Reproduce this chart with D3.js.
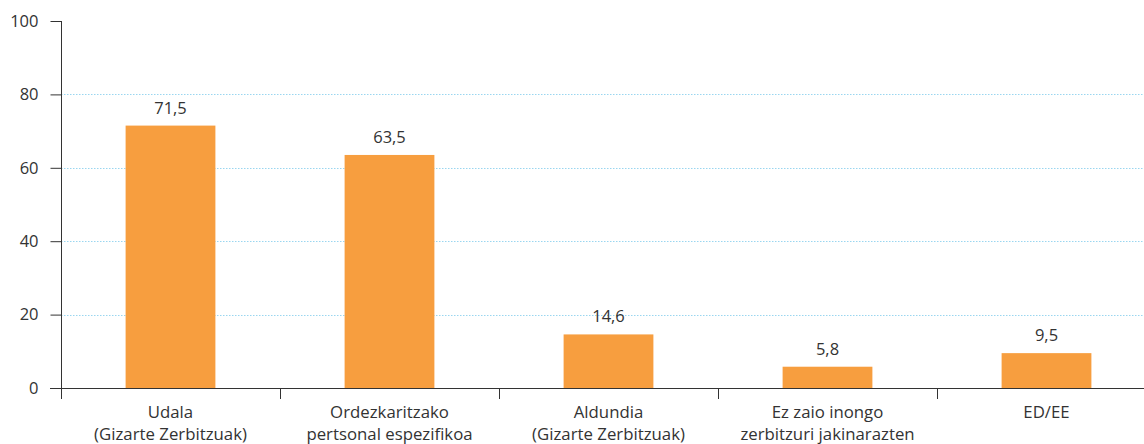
<!DOCTYPE html>
<html>
<head>
<meta charset="utf-8">
<script src="https://cdn.jsdelivr.net/npm/d3@7"></script>
<style>
  body { margin: 0; background: #fff; }
  svg { display: block; font-family: "Open Sans", "Noto Sans", sans-serif; }
  .grid line { stroke: #9ad6f0; stroke-dasharray: 1.5 1.5; }
</style>
</head>
<body>
<script>
// data
const categories = [
  ["Udala", "(Gizarte Zerbitzuak)"],
  ["Ordezkaritzako", "pertsonal espezifikoa"],
  ["Aldundia", "(Gizarte Zerbitzuak)"],
  ["Ez zaio inongo", "zerbitzuri jakinarazten"],
  ["ED/EE"]
];
const values = [71.5, 63.5, 14.6, 5.8, 9.5];
const yTicks = [0, 20, 40, 60, 80, 100];

const w = 1144, h = 444;
const padLeft = 61, padTop = 21, axisY = 388;

const svg = d3.select('body').append('svg')
  .attr('width', w)
  .attr('height', h);

const xScale = d3.scaleBand()
  .domain(d3.range(values.length))
  .range([padLeft, padLeft + 219 * values.length])
  .paddingInner(0.59)
  .paddingOuter(0.295);

const yScale = d3.scaleLinear()
  .domain([0, 100])
  .range([axisY, padTop]);

// grid lines
svg.append('g')
  .attr('class', 'grid')
  .selectAll('line')
  .data(yTicks.filter(d => d > 0 && d < 100))
  .enter()
  .append('line')
  .attr('x1', padLeft)
  .attr('x2', w)
  .attr('y1', d => Math.round(yScale(d)) + 0.5)
  .attr('y2', d => Math.round(yScale(d)) + 0.5);

// bars
svg.selectAll('rect.bar')
  .data(values)
  .enter()
  .append('rect')
  .attr('class', 'bar')
  .attr('x', (d, i) => xScale(i))
  .attr('y', d => yScale(d))
  .attr('width', xScale.bandwidth())
  .attr('height', d => axisY - yScale(d))
  .attr('fill', '#f79e3f');

// value labels
svg.selectAll('text.val')
  .data(values)
  .enter()
  .append('text')
  .attr('class', 'val')
  .attr('x', (d, i) => xScale(i) + xScale.bandwidth() / 2)
  .attr('y', d => yScale(d) - 12)
  .attr('text-anchor', 'middle')
  .attr('font-size', '16.5px')
  .attr('fill', '#333')
  .text(d => d.toFixed(1).replace('.', ','));

// y axis
const yAxis = d3.axisLeft(yScale).tickValues(yTicks).tickSize(11).tickPadding(12);
const gy = svg.append('g')
  .attr('transform', `translate(${padLeft + 0.5}, 0)`)
  .call(yAxis);
gy.select('.domain').attr('stroke', '#333').attr('d', `M0,${axisY}V${padTop}`);
gy.selectAll('.tick line').attr('stroke', '#333');
gy.selectAll('.tick text')
  .attr('font-size', '16.5px')
  .attr('fill', '#333')
  .attr('font-family', '"Open Sans", "Noto Sans", sans-serif');

// x axis: baseline and ticks at band boundaries
const boundaries = d3.range(values.length + 1).map(i => padLeft + xScale.step() * i);
svg.append('line')
  .attr('x1', 50)
  .attr('x2', w)
  .attr('y1', axisY + 0.5)
  .attr('y2', axisY + 0.5)
  .attr('stroke', '#333');
svg.selectAll('line.xtick')
  .data(boundaries)
  .enter()
  .append('line')
  .attr('class', 'xtick')
  .attr('x1', d => Math.round(d) + 0.5)
  .attr('x2', d => Math.round(d) + 0.5)
  .attr('y1', axisY)
  .attr('y2', axisY + 11)
  .attr('stroke', '#333');

// category labels
const cat = svg.selectAll('text.cat')
  .data(categories)
  .enter()
  .append('text')
  .attr('class', 'cat')
  .attr('text-anchor', 'middle')
  .attr('font-size', '16.8px')
  .attr('fill', '#333')
  .attr('x', (d, i) => xScale(i) + xScale.bandwidth() / 2)
  .attr('y', 418);
cat.selectAll('tspan')
  .data(d => d)
  .enter()
  .append('tspan')
  .attr('x', function () { return d3.select(this.parentNode).attr('x'); })
  .attr('dy', (d, i) => i === 0 ? 0 : 22)
  .text(d => d);
</script>
</body>
</html>
